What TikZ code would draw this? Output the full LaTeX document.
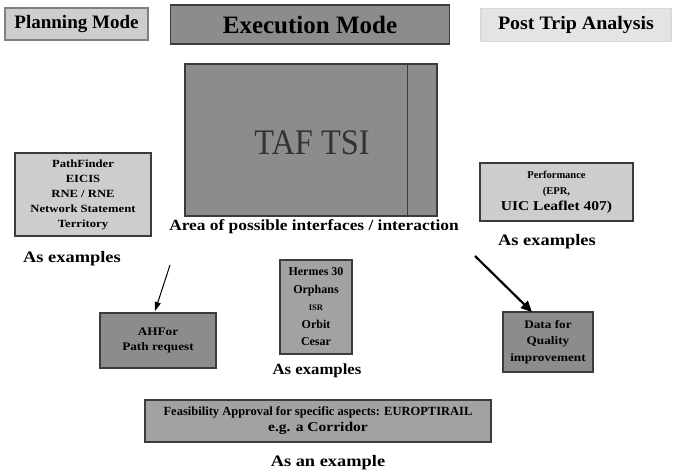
\documentclass[tikz,border=0pt]{standalone}
\usepackage{fontspec}
\usepackage{graphicx}
\setmainfont{Liberation Serif}
\usetikzlibrary{arrows.meta}
\definecolor{bdr}{HTML}{3C3C3C}
\definecolor{dkfill}{HTML}{8C8C8C}
\definecolor{mdfill}{HTML}{A2A2A2}
\definecolor{ltfill}{HTML}{CDCDCD}
\definecolor{vlfill}{HTML}{E4E4E4}
\newcommand{\wide}[1]{\scalebox{1.15}[1]{#1}}
\tikzset{
  gbox/.style={draw=bdr, line width=1.2pt, inner sep=0pt, align=center, font=\bfseries},
  lbl/.style={inner sep=0pt, font=\bfseries},
  arr/.style={-{Triangle[length=9pt,width=6pt]}, line width=1pt}
}
\begin{document}
\begin{tikzpicture}[x=1pt,y=-1pt]
\useasboundingbox[fill=white] (0,0) rectangle (673,474);
% headers
\node[gbox, fill=ltfill, draw=gray, minimum width=143pt, minimum height=32pt, font=\bfseries\fontsize{19}{20}\selectfont] (plan) at (76.5,24) {Planning Mode};
\node[gbox, fill=dkfill, minimum width=279pt, minimum height=39pt, font=\bfseries\fontsize{25}{26}\selectfont] (exec) at (310,24.5) {Execution Mode};
\node[gbox, fill=vlfill, draw=white!85!black, minimum width=190pt, minimum height=33pt, font=\bfseries\fontsize{19}{20}\selectfont] (post) at (576,25) {\scalebox{1.05}[1]{Post Trip Analysis}};
% TAF TSI
\node[gbox, fill=dkfill, minimum width=252pt, minimum height=152pt] (taf) at (311,140) {};
\draw[bdr, line width=1.2pt] (taf.north west) ++(223pt,0) coordinate (tl) -- (tl |- taf.south) coordinate (bl);
\node[lbl, font=\fontsize{36}{38}\selectfont, text=black!80] (taft) at (312,143) {\scalebox{0.9}[1]{TAF TSI}};
\node[lbl, font=\bfseries\fontsize{15.5}{16}\selectfont] (area) at (314,227) {\scalebox{1.12}[1]{Area of possible interfaces / interaction}};
% left box
\node[gbox, fill=ltfill, minimum width=136pt, minimum height=83pt, font=\bfseries\fontsize{11}{15}\selectfont] (lbox) at (83,194.5) {\wide{PathFinder}\\\wide{EICIS}\\\wide{RNE / RNE}\\\wide{Network Statement}\\\wide{Territory}};
\node[lbl, font=\bfseries\fontsize{16}{17}\selectfont] (lex) at (72,259) {\wide{As examples}};
% right top box
\node[gbox, fill=ltfill, minimum width=153pt, minimum height=58pt, font=\bfseries\fontsize{10.5}{16}\selectfont] (rbox) at (556.5,192) {Performance\\(EPR,\\{\fontsize{13.5}{16}\selectfont\wide{UIC Leaflet 407)}}};
\node[lbl, font=\bfseries\fontsize{16}{17}\selectfont] (rex) at (547,242) {\wide{As examples}};
% center box
\node[gbox, fill=mdfill, minimum width=72pt, minimum height=94pt, font=\bfseries\fontsize{12}{17.5}\selectfont] (cbox) at (316,307) {Hermes 30\\Orphans\\{\fontsize{8.5}{17.5}\selectfont ISR}\\Orbit\\Cesar};
\node[lbl, font=\bfseries\fontsize{15.5}{16}\selectfont] (cex) at (317,371) {\scalebox{1.08}[1]{As examples}};
% bottom-left box
\node[gbox, fill=dkfill, minimum width=116pt, minimum height=55pt, font=\bfseries\fontsize{11.5}{15}\selectfont] (blbox) at (158,340.5) {\wide{AHFor}\\\wide{Path request}};
% right box
\node[gbox, fill=dkfill, minimum width=90pt, minimum height=60pt, font=\bfseries\fontsize{11.5}{16.5}\selectfont] (brbox) at (548,342) {\wide{Data for}\\\wide{Quality}\\\wide{improvement}};
% bottom box
\node[gbox, fill=mdfill, minimum width=346pt, minimum height=42pt, font=\bfseries\fontsize{12.5}{16}\selectfont] (bbox) at (318,421) {Feasibility Approval for specific aspects: EUROPTIRAIL\\{\fontsize{13.5}{16}\selectfont\wide{e.g. a Corridor}}};
\node[lbl, font=\bfseries\fontsize{16}{17}\selectfont] (bex) at (328,463) {\wide{As an example}};
% arrows
\coordinate (s1) at (170,265);
\coordinate (e1) at (155,311);
\coordinate (s2) at (475,256);
\coordinate (e2) at (532,312);
\draw[arr] (s1) -- (e1);
\draw[arr, line width=2.2pt, -{Triangle[length=11pt,width=10pt]}] (s2) -- (e2);
\end{tikzpicture}
\end{document}
